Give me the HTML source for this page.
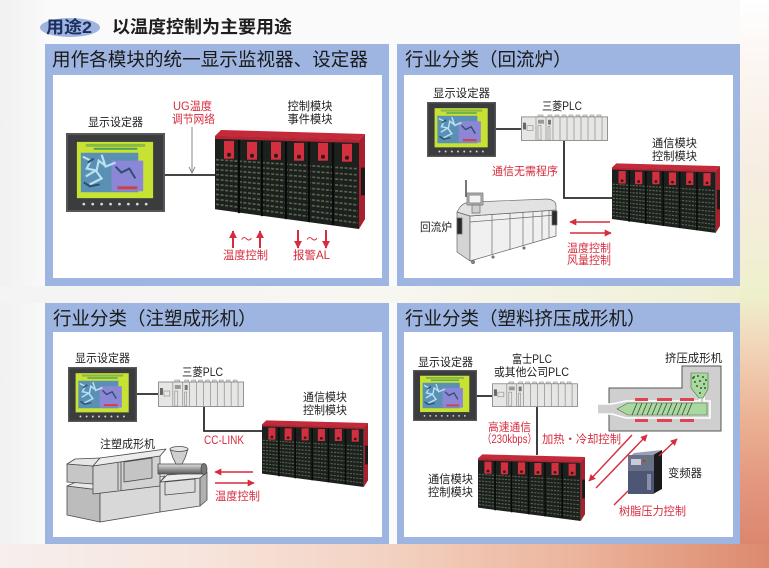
<!DOCTYPE html>
<html><head><meta charset="utf-8">
<style>
html,body{margin:0;padding:0;width:769px;height:568px;overflow:hidden;background:#fafafa;}
svg{display:block}
text{font-family:"Liberation Sans","Noto Sans CJK SC",sans-serif;}
</style></head>
<body>
<svg width="769" height="568" viewBox="0 0 769 568" xmlns="http://www.w3.org/2000/svg">
<defs>
 <linearGradient id="rs" x1="0" y1="0" x2="0" y2="1">
  <stop offset="0" stop-color="#ffffff"/>
  <stop offset="0.08" stop-color="#fdf8f5"/>
  <stop offset="0.3" stop-color="#f6ede2"/>
  <stop offset="0.45" stop-color="#f1efd4"/>
  <stop offset="0.52" stop-color="#eef0cc"/>
  <stop offset="0.6" stop-color="#f2d8bc"/>
  <stop offset="0.72" stop-color="#edb698"/>
  <stop offset="0.85" stop-color="#e3977e"/>
  <stop offset="1" stop-color="#d8806a"/>
 </linearGradient>
 <linearGradient id="bs" x1="0" y1="0" x2="1" y2="0">
  <stop offset="0" stop-color="#f6efed"/>
  <stop offset="0.25" stop-color="#f7e5dd"/>
  <stop offset="0.5" stop-color="#f3d2c2"/>
  <stop offset="0.75" stop-color="#ecb49c"/>
  <stop offset="1" stop-color="#dc8a6e"/>
 </linearGradient>
 <linearGradient id="ms" x1="0" y1="0" x2="1" y2="0">
  <stop offset="0" stop-color="#f4f4f4"/>
  <stop offset="0.5" stop-color="#f8f6f1"/>
  <stop offset="0.9" stop-color="#f0f1d8"/>
  <stop offset="1" stop-color="#eef0cc"/>
 </linearGradient>
 <linearGradient id="ls" x1="0" y1="0" x2="1" y2="0">
  <stop offset="0" stop-color="#f1f1f1"/>
  <stop offset="1" stop-color="#f9f9f9"/>
 </linearGradient>
 <linearGradient id="barrel" x1="0" y1="0" x2="0" y2="1">
  <stop offset="0" stop-color="#e0e0e0"/>
  <stop offset="0.5" stop-color="#9a9a9a"/>
  <stop offset="1" stop-color="#5a5a5a"/>
 </linearGradient>
 <marker id="ah" viewBox="0 0 10 10" refX="9" refY="5" markerWidth="7" markerHeight="7" markerUnits="userSpaceOnUse" orient="auto">
  <path d="M0,0 L10,5 L0,10 z" fill="#d62c3e"/>
 </marker>
 <marker id="ah2" viewBox="0 0 10 10" refX="9" refY="5" markerWidth="8" markerHeight="8" markerUnits="userSpaceOnUse" orient="auto">
  <path d="M0,0 L10,5 L0,10 z" fill="#d62c3e"/>
 </marker>

 <symbol id="hmi" viewBox="0 0 100 80" preserveAspectRatio="none">
  <rect width="100" height="80" fill="#55575a"/>
  <rect x="2" y="2" width="96" height="76" fill="#3a3c3e"/>
  <rect x="11" y="9" width="77" height="57" fill="#c8e234"/>
  <rect x="20" y="11" width="60" height="3" fill="#88b848"/>
  <rect x="28" y="15" width="44" height="2" fill="#50a050"/>
  <rect x="15" y="20" width="58" height="40" fill="#5a90b4"/>
  <rect x="46" y="28" width="32" height="31" fill="#8c86d6"/>
  <path d="M17,24 l8,4 l-4,8 l10,2 l2,-10 l8,6 M20,44 l10,-6 l6,8 l-12,6 M36,22 l4,12 l10,-4" stroke="#b8e0f0" stroke-width="2.2" fill="none"/>
  <path d="M18,50 l6,4 l10,-2 M50,34 l6,6 l8,-4 l6,10 M22,30 l6,-4" stroke="#2c5070" stroke-width="2" fill="none"/>
  <rect x="52" y="54" width="20" height="3" fill="#d04048"/>
  <g fill="#d8d8d8">
   <circle cx="18" cy="72" r="1.4"/><circle cx="27" cy="72" r="1.4"/><circle cx="36" cy="72" r="1.4"/><circle cx="45" cy="72" r="1.4"/>
   <circle cx="54" cy="72" r="1.4"/><circle cx="63" cy="72" r="1.4"/><circle cx="72" cy="72" r="1.4"/><circle cx="81" cy="72" r="1.4"/>
  </g>
 </symbol>

 <symbol id="plc" viewBox="0 0 87 28" preserveAspectRatio="none">
  <g fill="#d6d6d4" stroke="#8a8a8a" stroke-width="0.5">
   <rect x="17" y="1" width="5" height="3"/><rect x="27" y="1" width="4" height="3"/><rect x="34" y="1" width="4" height="3"/>
   <rect x="41" y="1" width="4" height="3"/><rect x="48" y="1" width="4" height="3"/><rect x="55" y="1" width="4" height="3"/>
   <rect x="62" y="1" width="4" height="3"/><rect x="69" y="1" width="4" height="3"/><rect x="76" y="1" width="4" height="3"/>
  </g>
  <rect x="0.5" y="3" width="86" height="24.5" fill="#e6e6e4" stroke="#7c7c7c" stroke-width="0.8"/>
  <g stroke="#8a8a8a" stroke-width="0.7">
   <line x1="15" y1="3" x2="15" y2="27.5"/><line x1="25" y1="3" x2="25" y2="27.5"/><line x1="32" y1="3" x2="32" y2="27.5"/>
   <line x1="39" y1="3" x2="39" y2="27.5"/><line x1="46" y1="3" x2="46" y2="27.5"/><line x1="53" y1="3" x2="53" y2="27.5"/>
   <line x1="60" y1="3" x2="60" y2="27.5"/><line x1="67" y1="3" x2="67" y2="27.5"/><line x1="74" y1="3" x2="74" y2="27.5"/>
   <line x1="81" y1="3" x2="81" y2="27.5"/>
  </g>
  <rect x="2" y="9" width="3" height="7" fill="#666"/>
  <rect x="6" y="12" width="6" height="5" fill="none" stroke="#888" stroke-width="0.6"/>
  <rect x="17" y="6" width="6" height="4" fill="#999"/>
  <rect x="17" y="12" width="3" height="15" fill="none" stroke="#888" stroke-width="0.6"/>
  <rect x="27" y="6" width="3" height="5" fill="#777"/>
  <rect x="27" y="13" width="2" height="14" fill="none" stroke="#888" stroke-width="0.6"/>
 </symbol>

 <symbol id="rack" viewBox="0 0 150 105" preserveAspectRatio="none">
  <polygon points="0,8 6,2 150,6 144,12" fill="#c42a3a"/>
  <polygon points="144,12 150,6 150,92 144,102" fill="#a8202e"/>
  <polygon points="0,8 144,12 144,102 0,82" fill="#1c211e"/>
  <polygon points="0,8 144,12 144,15 0,11" fill="#b82434"/>
  <g stroke="#58634f" stroke-width="1.7" stroke-dasharray="3 1.6">
   <line x1="1" y1="32" x2="143" y2="41.2"/>
   <line x1="1" y1="37" x2="143" y2="47.3"/>
   <line x1="1" y1="42" x2="143" y2="53.3"/>
   <line x1="1" y1="47" x2="143" y2="59.4"/>
   <line x1="1" y1="52" x2="143" y2="65.5"/>
   <line x1="1" y1="57" x2="143" y2="71.6"/>
   <line x1="1" y1="62" x2="143" y2="77.7"/>
   <line x1="1" y1="67" x2="143" y2="83.8"/>
   <line x1="1" y1="72" x2="143" y2="89.8"/>
   <line x1="1" y1="77" x2="143" y2="95.9"/>
  </g>
  <g stroke="#0a0a0a" stroke-width="2.2">
   <line x1="24" y1="12" x2="24" y2="86"/><line x1="47" y1="13" x2="47" y2="89"/>
   <line x1="71" y1="14" x2="71" y2="92"/><line x1="94" y1="14" x2="94" y2="95"/>
   <line x1="118" y1="15" x2="118" y2="98"/>
  </g>
  <g fill="#d3303f">
   <rect x="9" y="13" width="10" height="18"/><rect x="32" y="14" width="10" height="18"/>
   <rect x="56" y="14" width="10" height="18"/><rect x="79" y="15" width="10" height="18"/>
   <rect x="103" y="15" width="10" height="18"/><rect x="127" y="16" width="10" height="18"/>
  </g>
  <g fill="#2a1a1a">
   <circle cx="14" cy="27" r="2"/><circle cx="37" cy="28" r="2"/><circle cx="61" cy="28" r="2"/>
   <circle cx="84" cy="29" r="2"/><circle cx="108" cy="29" r="2"/><circle cx="132" cy="30" r="2"/>
  </g>
  <rect x="146" y="40" width="4" height="28" fill="#1a1a1a"/>
 </symbol>
</defs>

<!-- background -->
<rect width="769" height="568" fill="#fafafa"/>
<rect x="0" y="0" width="45" height="550" fill="url(#ls)"/>
<rect x="0" y="286" width="769" height="17" fill="url(#ms)"/>
<rect x="740" y="0" width="29" height="568" fill="url(#rs)"/>
<rect x="0" y="544" width="769" height="24" fill="url(#bs)"/>

<!-- heading -->
<ellipse cx="70" cy="27.5" rx="30" ry="9.5" fill="#9db5e0"/>
<text x="46" y="33" font-size="17" font-weight="bold" fill="#1c2d5e" textLength="46" lengthAdjust="spacingAndGlyphs">用途2</text>
<text x="112" y="33" font-size="17.5" font-weight="bold" fill="#1e1e1e" textLength="180" lengthAdjust="spacingAndGlyphs">以温度控制为主要用途</text>

<!-- panels -->
<rect x="45" y="44" width="344" height="242" fill="#9db5e0"/>
<rect x="53" y="75" width="329" height="203" fill="#ffffff"/>
<rect x="397" y="44" width="343" height="242" fill="#9db5e0"/>
<rect x="404" y="75" width="329" height="203" fill="#ffffff"/>
<rect x="45" y="303" width="344" height="241" fill="#9db5e0"/>
<rect x="53" y="332" width="329" height="205" fill="#ffffff"/>
<rect x="397" y="303" width="343" height="241" fill="#9db5e0"/>
<rect x="404" y="332" width="329" height="205" fill="#ffffff"/>

<g font-size="18.5" fill="#1a1a1a">
 <text x="52" y="66" textLength="316" lengthAdjust="spacingAndGlyphs">用作各模块的统一显示监视器、设定器</text>
 <text x="405" y="66">行业分类（回流炉）</text>
 <text x="53" y="325">行业分类（注塑成形机）</text>
 <text x="405" y="325">行业分类（塑料挤压成形机）</text>
</g>

<!-- ============ Panel 1 ============ -->
<use href="#hmi" x="66" y="133" width="99" height="79"/>
<line x1="165" y1="175" x2="217" y2="175" stroke="#2a2a2a" stroke-width="1.8"/>
<use href="#rack" x="215" y="128" width="150" height="104"/>
<line x1="192" y1="127" x2="192" y2="173" stroke="#8a8a8a" stroke-width="1"/>
<path d="M189,167 L192,173 L195,167" fill="none" stroke="#8a8a8a" stroke-width="1"/>
<g stroke="#d62c3e" stroke-width="2">
 <line x1="233" y1="248" x2="233" y2="231" marker-end="url(#ah2)"/>
 <line x1="260" y1="248" x2="260" y2="231" marker-end="url(#ah2)"/>
 <line x1="298" y1="230" x2="298" y2="248" marker-end="url(#ah2)"/>
 <line x1="326" y1="230" x2="326" y2="248" marker-end="url(#ah2)"/>
</g>
<g font-size="11.5" fill="#1e1e1e" text-anchor="middle">
 <text x="115.5" y="126" textLength="55" lengthAdjust="spacingAndGlyphs">显示设定器</text>
 <text x="310" y="110" textLength="45" lengthAdjust="spacingAndGlyphs">控制模块</text>
 <text x="310" y="123" textLength="45" lengthAdjust="spacingAndGlyphs">事件模块</text>
</g>
<g font-size="11.5" fill="#d62c3e" text-anchor="middle">
 <text x="192.5" y="110" textLength="39" lengthAdjust="spacingAndGlyphs">UG温度</text>
 <text x="193.5" y="123" textLength="43" lengthAdjust="spacingAndGlyphs">调节网络</text>
 <text x="246.5" y="243">～</text>
 <text x="312" y="243">～</text>
 <text x="245.5" y="259" textLength="45" lengthAdjust="spacingAndGlyphs">温度控制</text>
 <text x="311.5" y="259" textLength="37" lengthAdjust="spacingAndGlyphs">报警AL</text>
</g>

<!-- ============ Panel 2 ============ -->
<use href="#hmi" x="427" y="102" width="69" height="55"/>
<use href="#plc" x="521" y="114" width="87" height="27"/>
<line x1="496" y1="129" x2="521" y2="129" stroke="#2a2a2a" stroke-width="1.8"/>
<polyline points="564,141 564,198 614,198" fill="none" stroke="#2a2a2a" stroke-width="1.8"/>
<use href="#rack" x="612" y="162" width="108" height="73"/>
<!-- reflow oven -->
<g stroke="#6a6a6a" stroke-width="0.7" stroke-linejoin="round">
 <line x1="466" y1="180" x2="466" y2="197" stroke="#777" stroke-width="2"/>
 <polygon points="457,212 470,216 470,261 457,252" fill="#d4d4d4"/>
 <polygon points="470,216 556,210 556,236 470,261" fill="#f0f0f0"/>
 <path d="M460,207 Q464,202 472,202 L548,199 Q555,200 556,205 L556,210 L470,216 L457,212 Z" fill="#e2e2e2"/>
 <line x1="492" y1="214.5" x2="492" y2="255"/>
 <line x1="510" y1="213" x2="510" y2="250"/>
 <line x1="523" y1="212" x2="523" y2="246"/>
 <line x1="533" y1="211.5" x2="533" y2="243"/>
 <line x1="542" y1="211" x2="542" y2="240"/>
 <line x1="549" y1="210.5" x2="549" y2="238"/>
 <line x1="470" y1="222" x2="556" y2="215"/>
 <rect x="467" y="193" width="16" height="12" fill="#bdbdbd"/>
 <rect x="469" y="195" width="12" height="8" fill="#f4f4f4"/>
 <rect x="472" y="205" width="8" height="8" fill="#cfcfcf"/>
 <rect x="457" y="218" width="5" height="16" fill="#2a2a2a"/>
 <rect x="552" y="211" width="5" height="14" fill="#2a2a2a"/>
 <circle cx="473" cy="262" r="1.6" fill="#888"/>
 <circle cx="493" cy="257" r="1.2" fill="#888"/>
 <circle cx="524" cy="248" r="1.2" fill="#888"/>
</g>
<g stroke="#d62c3e" stroke-width="1.5">
 <line x1="610" y1="222" x2="570" y2="222" marker-end="url(#ah)"/>
 <line x1="570" y1="233" x2="611" y2="233" marker-end="url(#ah)"/>
</g>
<g font-size="11.5" fill="#1e1e1e" text-anchor="middle">
 <text x="461.5" y="97" textLength="57" lengthAdjust="spacingAndGlyphs">显示设定器</text>
 <text x="562" y="110" textLength="40" lengthAdjust="spacingAndGlyphs">三菱PLC</text>
 <text x="674.5" y="147" textLength="45" lengthAdjust="spacingAndGlyphs">通信模块</text>
 <text x="674.5" y="160" textLength="45" lengthAdjust="spacingAndGlyphs">控制模块</text>
 <text x="436" y="231" textLength="32" lengthAdjust="spacingAndGlyphs">回流炉</text>
</g>
<g font-size="11.5" fill="#d62c3e" text-anchor="middle">
 <text x="525" y="175" textLength="66" lengthAdjust="spacingAndGlyphs">通信无需程序</text>
 <text x="589" y="252" textLength="44" lengthAdjust="spacingAndGlyphs">温度控制</text>
 <text x="589" y="264" textLength="44" lengthAdjust="spacingAndGlyphs">风量控制</text>
</g>

<!-- ============ Panel 3 ============ -->
<use href="#hmi" x="68" y="367" width="69" height="55"/>
<use href="#plc" x="158" y="379" width="86" height="28"/>
<line x1="137" y1="394" x2="158" y2="394" stroke="#2a2a2a" stroke-width="1.8"/>
<polyline points="204,407 204,431 264,431" fill="none" stroke="#2a2a2a" stroke-width="1.8"/>
<use href="#rack" x="262" y="419" width="106" height="70"/>
<!-- injection molding machine -->
<g stroke="#4a4a4a" stroke-width="0.8" stroke-linejoin="round">
 <polygon points="67,486 100,490 100,522 67,515" fill="#bcbcbc"/>
 <polygon points="100,490 160,482 160,512 100,522" fill="#d8d8d8"/>
 <polygon points="67,486 76,482 165,476 160,482 100,490" fill="#e8e8e8"/>
 <polygon points="67,464 93,466 93,484 67,482" fill="#c6c6c6"/>
 <polygon points="67,464 75,459 100,458 93,466" fill="#e6e6e6"/>
 <polygon points="93,466 160,456 160,486 93,494" fill="#d2d2d2"/>
 <polygon points="93,466 100,458 166,449 160,456" fill="#ececec"/>
 <polygon points="124,462 152,458 152,478 124,482" fill="#c4c4c4"/>
 <line x1="118" y1="463" x2="118" y2="490"/>
 <line x1="121" y1="462" x2="121" y2="490"/>
 <polygon points="160,482 200,478 200,506 160,512" fill="#dcdcdc"/>
 <polygon points="160,482 167,475 207,472 200,478" fill="#ededed"/>
 <polygon points="200,478 207,472 207,500 200,506" fill="#b0b0b0"/>
 <polygon points="165,482 195,479 195,492 165,495" fill="none"/>
 <rect x="158" y="464" width="46" height="10" fill="url(#barrel)"/>
 <ellipse cx="204" cy="469" rx="3" ry="5.5" fill="#777"/>
 <polygon points="170,449 188,449 185,458 182,464 176,464 173,458" fill="#cfcfcf"/>
 <ellipse cx="179" cy="449" rx="9" ry="2.5" fill="#e4e4e4"/>
</g>
<g stroke="#d62c3e" stroke-width="1.5">
 <line x1="253" y1="472" x2="215" y2="472" marker-end="url(#ah)"/>
 <line x1="215" y1="483" x2="254" y2="483" marker-end="url(#ah)"/>
</g>
<g font-size="11.5" fill="#1e1e1e" text-anchor="middle">
 <text x="102.5" y="362" textLength="55" lengthAdjust="spacingAndGlyphs">显示设定器</text>
 <text x="202.5" y="376" textLength="41" lengthAdjust="spacingAndGlyphs">三菱PLC</text>
 <text x="325" y="401" textLength="44" lengthAdjust="spacingAndGlyphs">通信模块</text>
 <text x="325" y="414" textLength="44" lengthAdjust="spacingAndGlyphs">控制模块</text>
 <text x="127.5" y="448" textLength="55" lengthAdjust="spacingAndGlyphs">注塑成形机</text>
</g>
<g font-size="11.5" fill="#d62c3e" text-anchor="middle">
 <text x="224" y="444" textLength="40" lengthAdjust="spacingAndGlyphs">CC-LINK</text>
 <text x="237.5" y="500" textLength="45" lengthAdjust="spacingAndGlyphs">温度控制</text>
</g>

<!-- ============ Panel 4 ============ -->
<use href="#hmi" x="413" y="370" width="64" height="51"/>
<use href="#plc" x="492" y="381" width="86" height="26"/>
<line x1="477" y1="396" x2="492" y2="396" stroke="#2a2a2a" stroke-width="1.8"/>
<line x1="537" y1="407" x2="537" y2="455" stroke="#2a2a2a" stroke-width="1.8"/>
<use href="#rack" x="478" y="453" width="107" height="70"/>
<!-- extruder -->
<path d="M609,388 L682,388 L682,366 L721,366 L721,431 L609,431 Z" fill="#cfcfcf" stroke="#555" stroke-width="1"/>
<path d="M598,404 L612,404 L626,401 L700,401 L700,397 L704,397 L704,401 L710,401 L710,418 L626,418 L612,414 L598,414" fill="#cfcfcf" stroke="#ffffff" stroke-width="1.6"/>
<polygon points="617,409 628,403 707,403 707,415 628,415" fill="#a9d9a0" stroke="#4a6a40" stroke-width="0.6"/>
<g stroke="#3a4a38" stroke-width="0.8">
 <line x1="632" y1="415" x2="637" y2="403"/><line x1="637" y1="415" x2="642" y2="403"/><line x1="642" y1="415" x2="647" y2="403"/>
 <line x1="647" y1="415" x2="652" y2="403"/><line x1="652" y1="415" x2="657" y2="403"/><line x1="657" y1="415" x2="662" y2="403"/>
 <line x1="662" y1="415" x2="667" y2="403"/><line x1="667" y1="415" x2="672" y2="403"/><line x1="672" y1="415" x2="677" y2="403"/>
 <line x1="677" y1="415" x2="682" y2="403"/><line x1="682" y1="415" x2="687" y2="403"/><line x1="687" y1="415" x2="692" y2="403"/>
</g>
<polygon points="691,373 708,373 708,389 703,398 699,398 691,388" fill="#a9d9a0" stroke="#4a6a40" stroke-width="0.6"/>
<g fill="#3a5a34">
 <circle cx="694" cy="377" r="1"/><circle cx="698" cy="376" r="1"/><circle cx="703" cy="377" r="1"/><circle cx="706" cy="380" r="1"/>
 <circle cx="695" cy="382" r="1"/><circle cx="700" cy="381" r="1"/><circle cx="704" cy="384" r="1"/><circle cx="697" cy="386" r="1"/>
 <circle cx="701" cy="388" r="1"/><circle cx="705" cy="388" r="1"/><circle cx="700" cy="393" r="1"/><circle cx="693" cy="378" r="1"/>
</g>
<g fill="#e04454">
 <rect x="635" y="398" width="13" height="3"/><rect x="657" y="398" width="15" height="3"/><rect x="680" y="398" width="14" height="3"/>
 <rect x="635" y="419" width="13" height="3"/><rect x="657" y="419" width="15" height="3"/><rect x="680" y="419" width="14" height="3"/>
</g>
<!-- inverter -->
<polygon points="653,455 662,450 662,489 653,494" fill="#1a1a1a"/>
<polygon points="628,458 634,453 662,450 653,455" fill="#9aa0b4"/>
<rect x="628" y="455" width="26" height="39" fill="#4e5676"/>
<rect x="628" y="455" width="26" height="16" fill="#6a7088"/>
<rect x="631" y="459" width="10" height="6" fill="#c8ccd8"/>
<circle cx="644" cy="461" r="1.3" fill="#d03030"/><circle cx="648" cy="461" r="1.3" fill="#30a040"/>
<rect x="647" y="474" width="4" height="16" fill="#8a90a8"/>
<g stroke="#d62c3e" stroke-width="1.4">
 <line x1="632" y1="435" x2="589" y2="481" marker-end="url(#ah)"/>
 <line x1="596" y1="488" x2="647" y2="435" marker-end="url(#ah)"/>
 <line x1="614" y1="505" x2="628" y2="491"/>
 <line x1="659" y1="456" x2="677" y2="439" marker-end="url(#ah)"/>
</g>
<g font-size="11.5" fill="#1e1e1e" text-anchor="middle">
 <text x="445.5" y="366" textLength="55" lengthAdjust="spacingAndGlyphs">显示设定器</text>
 <text x="532" y="363" textLength="40" lengthAdjust="spacingAndGlyphs">富士PLC</text>
 <text x="531.5" y="376" textLength="75" lengthAdjust="spacingAndGlyphs">或其他公司PLC</text>
 <text x="450.5" y="483" textLength="45" lengthAdjust="spacingAndGlyphs">通信模块</text>
 <text x="450.5" y="496" textLength="45" lengthAdjust="spacingAndGlyphs">控制模块</text>
 <text x="693.5" y="362" textLength="57" lengthAdjust="spacingAndGlyphs">挤压成形机</text>
 <text x="685" y="477" textLength="34" lengthAdjust="spacingAndGlyphs">变频器</text>
</g>
<g font-size="11.5" fill="#d62c3e" text-anchor="middle">
 <text x="509.5" y="431" textLength="43" lengthAdjust="spacingAndGlyphs">高速通信</text>
 <text x="509.5" y="443" textLength="55" lengthAdjust="spacingAndGlyphs">（230kbps）</text>
 <text x="581.5" y="443" textLength="79" lengthAdjust="spacingAndGlyphs">加热・冷却控制</text>
 <text x="652.5" y="515" textLength="67" lengthAdjust="spacingAndGlyphs">树脂压力控制</text>
</g>
</svg>
</body></html>
